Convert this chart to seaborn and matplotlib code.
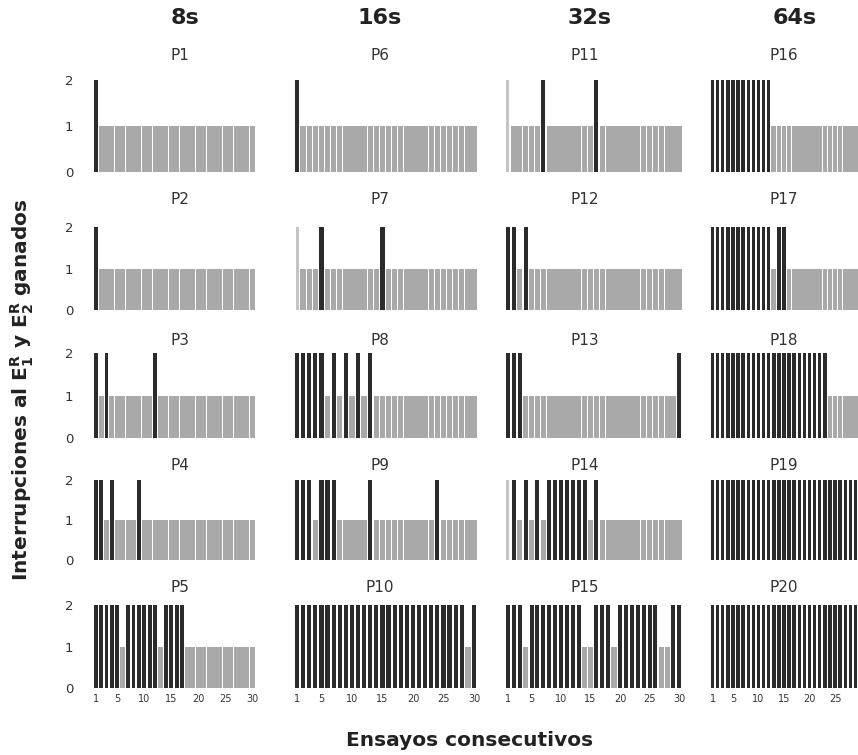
import numpy as np
import matplotlib
matplotlib.use("Agg")
import matplotlib.pyplot as plt
import seaborn as sns

sns.set_style("white")
plt.rcParams['font.family'] = ['DejaVu Sans']
plt.rcParams['mathtext.default'] = 'bf'

# ---------------- data ----------------
trials = list(range(1, 31))

P1 = [2,1,1,1,1,1,1,1,1,1, 1,1,1,1,1,1,1,1,1,1, 1,1,1,1,1,1,1,1,1,1]
P2 = [2,1,1,1,1,1,1,1,1,1, 1,1,1,1,1,1,1,1,1,1, 1,1,1,1,1,1,1,1,1,1]
P3 = [2,1,2,1,1,1,1,1,1,1, 1,2,1,1,1,1,1,1,1,1, 1,1,1,1,1,1,1,1,1,1]
P4 = [2,2,1,2,1,1,1,1,2,1, 1,1,1,1,1,1,1,1,1,1, 1,1,1,1,1,1,1,1,1,1]
P5 = [2,2,2,2,2,1,2,2,2,2, 2,2,1,2,2,2,2,1,1,1, 1,1,1,1,1,1,1,1,1,1]
P6 = [2,1,1,1,1,1,1,1,1,1, 1,1,1,1,1,1,1,1,1,1, 1,1,1,1,1,1,1,1,1,1]
P7 = [2,1,1,1,2,1,1,1,1,1, 1,1,1,1,2,1,1,1,1,1, 1,1,1,1,1,1,1,1,1,1]
P8 = [2,2,2,2,2,1,2,1,2,1, 2,1,2,1,1,1,1,1,1,1, 1,1,1,1,1,1,1,1,1,1]
P9 = [2,2,2,1,2,2,2,1,1,1, 1,1,2,1,1,1,1,1,1,1, 1,1,1,2,1,1,1,1,1,1]
P10 = [2,2,2,2,2,2,2,2,2,2, 2,2,2,2,2,2,2,2,2,2, 2,2,2,2,2,2,2,2,1,2]
P11 = [2,1,1,1,1,1,2,1,1,1, 1,1,1,1,1,2,1,1,1,1, 1,1,1,1,1,1,1,1,1,1]
P12 = [2,2,1,2,1,1,1,1,1,1, 1,1,1,1,1,1,1,1,1,1, 1,1,1,1,1,1,1,1,1,1]
P13 = [2,2,2,1,1,1,1,1,1,1, 1,1,1,1,1,1,1,1,1,1, 1,1,1,1,1,1,1,1,1,2]
P14 = [2,2,1,2,1,2,1,2,2,2, 2,2,2,2,1,2,1,1,1,1, 1,1,1,1,1,1,1,1,1,1]
P15 = [2,2,2,1,2,2,2,2,2,2, 2,2,2,1,1,2,2,2,1,2, 2,2,2,2,2,2,1,1,2,2]
P16 = [2,2,2,2,2,2,2,2,2,2, 2,2,1,1,1,1,1,1,1,1, 1,1,1,1,1,1,1,1,1,1]
P17 = [2,2,2,2,2,2,2,2,2,2, 2,2,1,2,2,1,1,1,1,1, 1,1,1,1,1,1,1,1,1,1]
P18 = [2,2,2,2,2,2,2,2,2,2, 2,2,2,2,2,2,2,2,2,2, 2,2,2,1,1,1,1,1,1,1]
P19 = [2,2,2,2,2,2,2,2,2,2, 2,2,2,2,2,2,2,2,2,2, 2,2,2,2,2,2,2,2,2,2]
P20 = [2,2,2,2,2,2,2,2,2,2, 2,2,2,2,2,2,2,2,2,2, 2,2,2,2,2,2,2,2,2,2]

panels = {"P1": P1, "P2": P2, "P3": P3, "P4": P4, "P5": P5,
          "P6": P6, "P7": P7, "P8": P8, "P9": P9, "P10": P10,
          "P11": P11, "P12": P12, "P13": P13, "P14": P14, "P15": P15,
          "P16": P16, "P17": P17, "P18": P18, "P19": P19, "P20": P20}
# trials drawn in a light tone (first trial of some panels)
light_trials = {"P7": [1], "P11": [1], "P14": [1]}

col_titles = ["8s", "16s", "32s", "64s"]
grid = [["P1", "P6", "P11", "P16"],
        ["P2", "P7", "P12", "P17"],
        ["P3", "P8", "P13", "P18"],
        ["P4", "P9", "P14", "P19"],
        ["P5", "P10", "P15", "P20"]]
xtick_vals = [1, 5, 10, 15, 20, 25, 30]
xtick_vals_last = [1, 5, 10, 15, 20, 25]
ytick_vals = [0, 1, 2]

# ---------------- layout (pixels) ----------------
W, H = 858, 755
col_x = [(93, 255), (294, 477), (505, 682), (710, 858)]
col_xlim = [(0.5, 30.5), (0.5, 30.5), (0.5, 30.5), (0.5, 29.5)]
row_y = [(172, 75), (310, 223), (438, 349), (560, 476), (688, 601)]
row_title_y = [55, 200, 340, 466, 588]
col_title_x = [180, 380, 585, 784]
header_x = [185, 380, 590, 795]

GRAY = "#a9a9a9"
BLACK = "#2b2b2b"
LIGHT = "#c4c4c4"

fig = plt.figure(figsize=(W / 100, H / 100), dpi=100)

for r, row in enumerate(grid):
    for c, name in enumerate(row):
        x0, x1 = col_x[c]
        yb, yt = row_y[r]
        ax = fig.add_axes([x0 / W, 1 - yb / H, (x1 - x0) / W, (yb - yt) / H])
        vals = np.array(panels[name])
        lt = set(light_trials.get(name, []))
        is_light = np.array([t in lt for t in trials])
        gray_h = np.where(vals == 1, vals, 0)
        black_h = np.where((vals == 2) & ~is_light, vals, 0)
        light_h = np.where(is_light, vals, 0)
        for h, col, w in [(gray_h, GRAY, 0.9), (black_h, BLACK, 0.68), (light_h, LIGHT, 0.5)]:
            sns.barplot(x=trials, y=h, color=col, width=w, native_scale=True,
                        errorbar=None, ax=ax, linewidth=0, saturation=1)
        ax.axhline(0, color="#d0d0d0", lw=0.8, zorder=0)
        ax.set_xlim(*col_xlim[c])
        ax.set_ylim(0, 2.1)
        for s in ax.spines.values():
            s.set_visible(False)
        ax.set_xlabel("")
        ax.set_ylabel("")
        if c == 0:
            ax.set_yticks(ytick_vals)
            ax.set_yticklabels([str(v) for v in ytick_vals], fontsize=9.5, color="#333333")
            ax.tick_params(axis="y", length=0, pad=14)
        else:
            ax.set_yticks([])
        if r == len(grid) - 1:
            tv = xtick_vals_last if c == 3 else xtick_vals
            ax.set_xticks(tv)
            ax.set_xticklabels([str(v) for v in tv], fontsize=7, color="#333333")
            ax.tick_params(axis="x", length=0, pad=4)
        else:
            ax.set_xticks([])
        fig.text(col_title_x[c] / W, 1 - row_title_y[r] / H, name,
                 ha="center", va="center", fontsize=11, color="#333333")

for c, t in enumerate(col_titles):
    fig.text(header_x[c] / W, 1 - 18 / H, t, ha="center", va="center",
             fontsize=16, fontweight="bold", color="#222222")

fig.text(22 / W, 1 - 390 / H,
         r"Interrupciones al E$^{R}_{1}$ y E$^{R}_{2}$ ganados",
         rotation=90, ha="center", va="center", fontsize=14.5,
         fontweight="bold", color="#222222")
fig.text(470 / W, 1 - 740 / H, "Ensayos consecutivos", ha="center", va="center",
         fontsize=14.5, fontweight="bold", color="#222222")

fig.savefig("out.png", dpi=100)
